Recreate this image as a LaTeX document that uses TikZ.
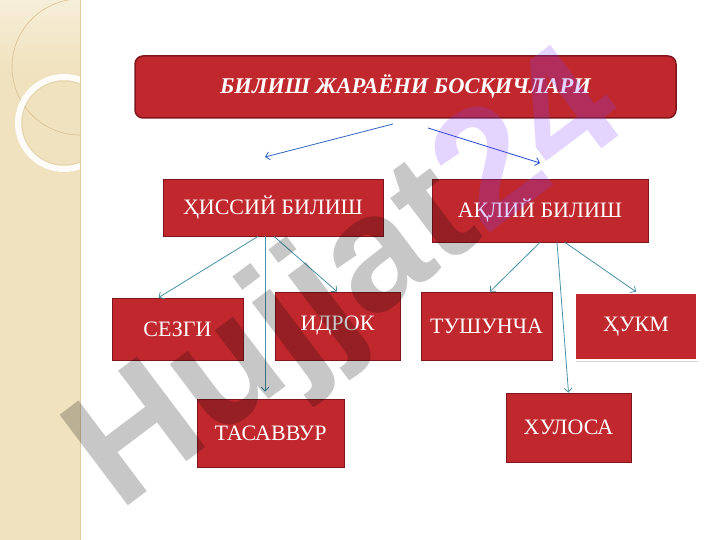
\documentclass[tikz,border=0pt]{standalone}
\usepackage{fontspec}
\setmainfont{Liberation Serif}
\newfontfamily\wmfont{Liberation Sans}
\usepackage{xcolor}
\usepackage{tikz}
\usetikzlibrary{shadows,arrows.meta}

\definecolor{boxred}{RGB}{192,40,45}
\definecolor{boxedge}{RGB}{128,22,28}
\definecolor{linkteal}{RGB}{70,145,165}
\definecolor{stripbg}{RGB}{240,226,190}
\definecolor{striptop}{RGB}{246,238,216}
\definecolor{stripedge}{RGB}{222,206,166}
\definecolor{wmviolet}{RGB}{128,64,255}

\begin{document}
\begin{tikzpicture}[x=1pt,y=-1pt]
\useasboundingbox (0,0) rectangle (720,540);

% left strip
\fill[stripbg] (0,0) rectangle (80,540);
\shade[top color=striptop,bottom color=stripbg] (0,0) rectangle (80,70);
\begin{scope}
\clip (0,0) rectangle (80,540);
\draw[stripedge!80!brown,line width=0.6pt] (80,67) circle (68);
\draw[white!90!stripbg,line width=6pt] (64,123) circle (46);
\draw[stripedge,line width=0.5pt] (64,123) circle (42);
\end{scope}
\draw[stripedge,line width=1pt] (80,0) -- (80,540);

\tikzstyle{bilish}=[draw=boxedge,fill=boxred,text=white,inner sep=0pt,line width=0.8pt,font=\fontsize{22}{24}\selectfont];
\tikzstyle{link}=[-{Straight Barb[length=4pt,width=8pt]},draw=linkteal,line width=0.8pt];

\node[bilish,rounded corners=8pt,line width=1.5pt,minimum width=541,minimum height=62,font=\fontsize{22.5}{24}\selectfont\bfseries\itshape] (title) at (405.5,87) {БИЛИШ ЖАРАЁНИ БОСҚИЧЛАРИ};

\node[bilish,minimum width=220,minimum height=57] (hissiy) at (273,207.5) {ҲИССИЙ БИЛИШ};
\node[bilish,minimum width=216,minimum height=63] (aqliy) at (540,210.5) {АҚЛИЙ БИЛИШ};

\node[bilish,minimum width=131,minimum height=62] (sezgi) at (177.5,329) {СЕЗГИ};
\node[bilish,minimum width=125,minimum height=68] (idrok) at (337.5,326) {ИДРОК};
\node[bilish,minimum width=147,minimum height=68] (tasavvur) at (270.5,433) {ТАСАВВУР};
\node[bilish,minimum width=131,minimum height=68] (tushuncha) at (486.5,326) {ТУШУНЧА};
\node[bilish,draw=white,line width=2.5pt,drop shadow={opacity=0.35,shadow xshift=1pt,shadow yshift=-2pt},minimum width=122,minimum height=67] (hukm) at (636,326.5) {ҲУКМ};
\node[bilish,minimum width=125,minimum height=69] (xulosa) at (568.5,427.5) {ХУЛОСА};

% arrows from the title
\coordinate (t1) at (393,124);
\coordinate (t2) at (265,157);
\coordinate (t3) at (428,128);
\coordinate (t4) at (540,163);
\draw[link,draw=linkteal!70!blue] (t1) -- (t2);
\draw[link,draw=linkteal!50!blue] (t3) -- (t4);

\draw[link] ([xshift=-15pt]hissiy.south) -- ([xshift=-19pt]sezgi.north);
\draw[link,shorten >=7pt] ([xshift=-8pt]hissiy.south) -- ([xshift=-5.5pt]tasavvur.north);
\draw[link] ([xshift=1pt]hissiy.south) -- ([xshift=-0.5pt]idrok.north);

\draw[link] (aqliy.south) -- ([xshift=3.5pt]tushuncha.north);
\draw[link] ([xshift=17pt]aqliy.south) -- (xulosa.north);
\draw[link] ([xshift=25pt]aqliy.south) -- (hukm.north);

% watermark
\node[rotate=37,text=black,text opacity=0.22,inner sep=0pt,font=\wmfont\bfseries\fontsize{165}{165}\selectfont] (wm) at (350,285) {Hujjat\textcolor{wmviolet}{24}};
\end{tikzpicture}
\end{document}
